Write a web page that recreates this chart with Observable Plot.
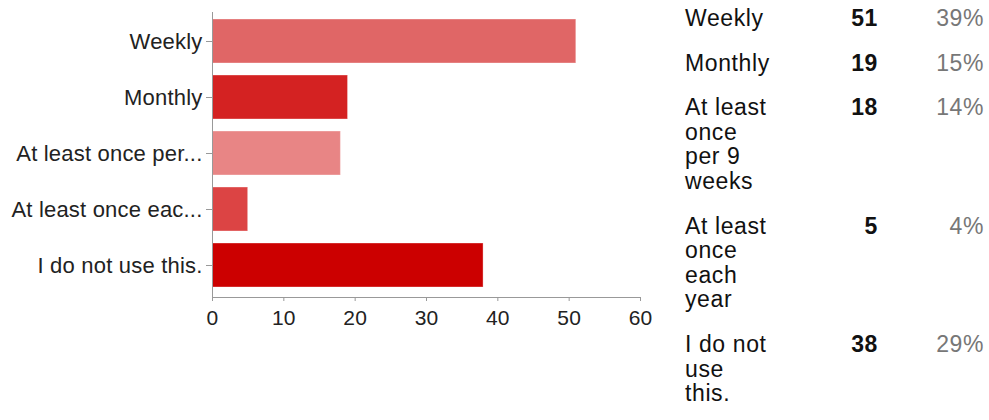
<!DOCTYPE html>
<html><head><meta charset="utf-8">
<script src="https://cdn.jsdelivr.net/npm/d3@7"></script>
<script src="https://cdn.jsdelivr.net/npm/@observablehq/plot@0.6"></script>
<style>
body{margin:0;background:#fff;font-family:Arial,"Liberation Sans",sans-serif;}
#wrap{position:relative;width:989px;height:420px;overflow:hidden;}
#chart{position:absolute;left:0;top:0;}
#table{position:absolute;left:685px;top:6px;border-collapse:collapse;table-layout:fixed;width:299px;font-size:23px;letter-spacing:0.6px;line-height:24.6px;color:#111;}
#table td{padding:0 0 20px 0;vertical-align:top;}
#table td.label{width:88px;}
#table td.count{width:105px;text-align:right;font-weight:bold;}
#table td.pct{width:106px;text-align:right;color:#777;}
</style></head>
<body>
<div id="wrap"><div id="chart"></div><table id="table"><tbody></tbody></table></div>
<script>
const categories = ["Weekly", "Monthly", "At least once per 9 weeks", "At least once each year", "I do not use this."];
const axisLabels = ["Weekly", "Monthly", "At least once per...", "At least once eac...", "I do not use this."];
const counts = [51, 19, 18, 5, 38];
const percents = ["39%", "15%", "14%", "4%", "29%"];
const xTicks = [0, 10, 20, 30, 40, 50, 60];
const palette = ["#e06666", "#d42222", "#e88585", "#dc4444", "#cc0000"];

const data = categories.map((c, i) => ({category: c, count: counts[i]}));

const chart = Plot.plot({
  width: 660,
  height: 340,
  marginLeft: 212,
  marginRight: 20,
  marginTop: 12,
  marginBottom: 43,
  style: {fontFamily: "Arial, 'Liberation Sans', sans-serif", fontSize: "22px", letterSpacing: "0.2px", background: "#fff"},
  x: {domain: [0, 60]},
  y: {domain: categories, paddingInner: 0.21, paddingOuter: 0.105, insetBottom: 2},
  color: {domain: categories, range: palette},
  marks: [
    Plot.barX(data, {x: "count", y: "category", fill: "category", stroke: "#fff", strokeOpacity: 0.35}),
    Plot.ruleX([0], {stroke: "#999"}),
    Plot.frame({anchor: "bottom", stroke: "#999"}),
    Plot.axisY({tickSize: 6, tickPadding: 4, label: null, stroke: "#999", fill: "#222",
      tickFormat: d => axisLabels[categories.indexOf(d)]}),
    Plot.axisX({ticks: xTicks, tickSize: 4, tickPadding: 9, label: null, stroke: "#999", fill: "#222", fontSize: 21})
  ]
});
document.getElementById("chart").appendChild(chart);

const rows = d3.select("#table tbody").selectAll("tr")
  .data(categories.map((c, i) => ({c, n: counts[i], p: percents[i]})))
  .join("tr");
rows.append("td").attr("class", "label").text(d => d.c);
rows.append("td").attr("class", "count").text(d => d.n);
rows.append("td").attr("class", "pct").text(d => d.p);
</script>
</body></html>
